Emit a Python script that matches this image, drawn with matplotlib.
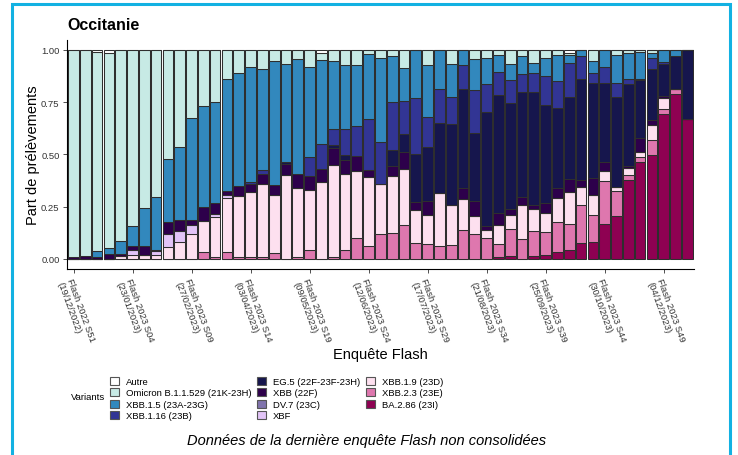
import numpy as np
import matplotlib
matplotlib.use("Agg")
import matplotlib.pyplot as plt
from matplotlib.patches import Patch, Rectangle

plt.rcParams["font.family"] = ["Liberation Sans", "DejaVu Sans"]

# categories: survey weeks
weeks = ["2022 S51", "2022 S52"] + ["2023 S%02d" % i for i in range(1, 52)]
tick_dates = ["19/12/2022", "23/01/2023", "27/02/2023", "03/04/2023", "09/05/2023",
              "12/06/2023", "17/07/2023", "21/08/2023", "25/09/2023", "30/10/2023",
              "04/12/2023"]

variants = ["Autre", "Omicron B.1.1.529 (21K-23H)", "XBB.1.5 (23A-23G)", "XBB.1.16 (23B)",
            "EG.5 (22F-23F-23H)", "XBB (22F)", "DV.7 (23C)", "XBF",
            "XBB.1.9 (23D)", "XBB.2.3 (23E)", "BA.2.86 (23I)"]
colors = ["#ffffff", "#c7eae5", "#3288bd", "#323594", "#16164d", "#2d004b",
          "#8073ac", "#e2c4f7", "#fde0ef", "#de77ae", "#8e0152"]

# one value per week, 10 weeks per line
autre = [0, 0, 0.008, 0.015, 0, 0, 0, 0, 0, 0,
         0, 0, 0, 0, 0, 0, 0, 0, 0, 0,
         0, 0.013, 0, 0, 0, 0, 0, 0, 0, 0,
         0, 0, 0, 0, 0, 0, 0, 0, 0, 0,
         0, 0, 0.013, 0, 0, 0, 0, 0, 0, 0,
         0, 0, 0]
omicron = [0.99, 0.985, 0.952, 0.933, 0.914, 0.84, 0.758, 0.705, 0.523, 0.463,
           0.327, 0.268, 0.25, 0.14, 0.11, 0.08, 0.09, 0.054, 0.067, 0.043,
           0.083, 0.035, 0.054, 0.074, 0.074, 0.02, 0.04, 0.03, 0.084, 0,
           0.072, 0, 0.067, 0, 0.045, 0.04, 0.024, 0.067, 0.027, 0.064,
           0.04, 0.024, 0.011, 0, 0.051, 0, 0.024, 0.013, 0.011, 0.013,
           0, 0, 0]
xbb15 = [0, 0, 0.03, 0.03, 0.062, 0.10, 0.18, 0.25, 0.30, 0.35,
         0.486, 0.485, 0.483, 0.534, 0.54, 0.553, 0.483, 0.59, 0.47, 0.55,
         0.427, 0.40, 0.324, 0.303, 0.29, 0.31, 0.40, 0.22, 0.16, 0.228,
         0.25, 0.187, 0.157, 0.072, 0.147, 0.123, 0.08, 0.077, 0.088, 0.045,
         0.085, 0.124, 0.037, 0.029, 0.057, 0.083, 0.132, 0.126, 0.128, 0.027,
         0.056, 0.027, 0]
xbb116 = [0, 0, 0, 0, 0, 0, 0, 0, 0, 0,
          0, 0, 0, 0, 0, 0.008, 0.019, 0, 0, 0,
          0.094, 0.123, 0.077, 0.124, 0.144, 0.245, 0.20, 0.228, 0.16, 0.27,
          0.14, 0.164, 0.13, 0.113, 0.204, 0.136, 0.112, 0.112, 0.085, 0.09,
          0.139, 0.128, 0.163, 0.112, 0.048, 0.073, 0.07, 0.026, 0.004, 0.053,
          0.011, 0, 0]
eg5 = [0, 0, 0, 0, 0, 0, 0, 0, 0, 0,
       0, 0, 0, 0, 0, 0, 0, 0, 0.011, 0,
       0, 0, 0.016, 0.024, 0, 0, 0, 0.075, 0.085, 0.23,
       0.26, 0.335, 0.388, 0.474, 0.325, 0.543, 0.566, 0.505, 0.505, 0.542,
       0.47, 0.386, 0.394, 0.482, 0.455, 0.378, 0.432, 0.389, 0.28, 0.24,
       0.153, 0.16, 0.33]
xbb = [0.01, 0.015, 0.01, 0.022, 0.01, 0.015, 0.045, 0.005, 0.06, 0.054,
       0.024, 0.064, 0.054, 0.019, 0.048, 0.04, 0.048, 0.05, 0.05, 0.069,
       0.064, 0.06, 0.078, 0.07, 0.072, 0.035, 0, 0.048, 0.083, 0.04,
       0.07, 0, 0, 0.054, 0.073, 0.019, 0.056, 0.029, 0.037, 0.019,
       0.045, 0.048, 0.062, 0.035, 0.083, 0.045, 0, 0.013, 0.064, 0.024,
       0.008, 0, 0]
dv7 = [0] * 53
xbf = [0, 0, 0, 0, 0, 0.025, 0, 0.02, 0.06, 0.053,
       0.046, 0, 0.013, 0.016, 0, 0, 0, 0, 0, 0] + [0] * 33
xbb19 = [0, 0, 0, 0, 0.014, 0.02, 0.017, 0.02, 0.057, 0.08,
         0.117, 0.15, 0.19, 0.26, 0.294, 0.311, 0.352, 0.276, 0.402, 0.327,
         0.287, 0.369, 0.44, 0.36, 0.32, 0.33, 0.24, 0.274, 0.265, 0.154,
         0.138, 0.25, 0.191, 0.148, 0.086, 0.04, 0.091, 0.067, 0.164, 0.108,
         0.091, 0.112, 0.152, 0.085, 0.096, 0.048, 0.019, 0.032, 0.024, 0.075,
         0.056, 0, 0]
xbb23 = [0, 0, 0, 0, 0, 0, 0, 0, 0, 0,
         0, 0.033, 0.01, 0.031, 0.008, 0.008, 0.008, 0.03, 0, 0.011,
         0.045, 0, 0.011, 0.045, 0.10, 0.06, 0.12, 0.125, 0.163, 0.078,
         0.07, 0.064, 0.067, 0.139, 0.12, 0.099, 0.061, 0.128, 0.094, 0.12,
         0.11, 0.144, 0.126, 0.183, 0.128, 0.207, 0.116, 0.024, 0.027, 0.069,
         0.022, 0.026, 0]
ba286 = [0] * 36 + [0.01, 0.015, 0, 0.012,
                    0.02, 0.034, 0.042, 0.074, 0.082, 0.166, 0.207, 0.377, 0.462, 0.499,
                    0.694, 0.787, 0.67]

series = [autre, omicron, xbb15, xbb116, eg5, xbb, dv7, xbf, xbb19, xbb23, ba286]

vals = np.array(series, dtype=float)
vals = vals / vals.sum(axis=0)
x = np.arange(len(weeks))

fig = plt.figure(figsize=(7.38, 4.56), dpi=100)
W, H = 738, 456
ax = fig.add_axes([66.5 / W, (H - 270.4) / H, (694.3 - 66.5) / W, (270.4 - 40.5) / H])

bottom = np.zeros(len(weeks))
for i in range(len(series) - 1, -1, -1):
    ax.bar(x, vals[i], bottom=bottom, width=0.9, color=colors[i],
           edgecolor="#2e2e2e", linewidth=0.75)
    bottom += vals[i]

ax.set_xlim(-0.6, len(weeks) - 0.4)
ax.set_ylim(-0.05, 1.05)
ax.set_yticks([0, 0.25, 0.5, 0.75, 1.0])
ax.set_yticklabels(["0.00", "0.25", "0.50", "0.75", "1.00"])
tick_pos = list(range(0, len(weeks), 5))
ax.set_xticks(tick_pos)
ax.set_xticklabels(["Flash %s\n(%s)" % (weeks[p], d) for p, d in zip(tick_pos, tick_dates)],
                   rotation=-70, ha="left", va="top", rotation_mode="anchor")
ax.tick_params(axis="both", labelsize=6.8, colors="#333333", length=3, width=0.6, pad=2)
for s in ["top", "right"]:
    ax.spines[s].set_visible(False)
for s in ["left", "bottom"]:
    ax.spines[s].set_linewidth(0.8)
    ax.spines[s].set_color("black")

fig.text(67 / W, 1 - 25 / H, "Occitanie", fontsize=11.5, fontweight="bold", va="center")
fig.text(33 / W, 1 - 155 / H, "Part de prélèvements", fontsize=10.5, rotation=90,
         ha="center", va="center")
fig.text(380 / W, 1 - 355 / H, "Enquête Flash", fontsize=10.5, ha="center", va="center")

handles = [Patch(facecolor=c, edgecolor="#555555", linewidth=0.8) for c in colors]
fig.legend(handles, variants, ncol=3, loc="upper left",
           bbox_to_anchor=(105 / W, 1 - 373 / H), frameon=False, fontsize=6.8,
           borderpad=0, handlelength=0.95, handleheight=0.95, labelspacing=0.22,
           handletextpad=0.75, columnspacing=0.6)
fig.text(71 / W, 1 - 398 / H, "Variants", fontsize=6.8, va="center")

fig.text(367 / W, 1 - 441 / H, "Données de la dernière enquête Flash non consolidées",
         fontsize=10.5, style="italic", ha="center", va="center")

fig.patches.append(Rectangle((12.5 / W, -0.05), (729.5 - 12.5) / W, 1.05 - 5 / H,
                             transform=fig.transFigure, fill=False,
                             edgecolor="#12b1e2", linewidth=2.2, clip_on=False))

fig.savefig("out.png", dpi=100)
